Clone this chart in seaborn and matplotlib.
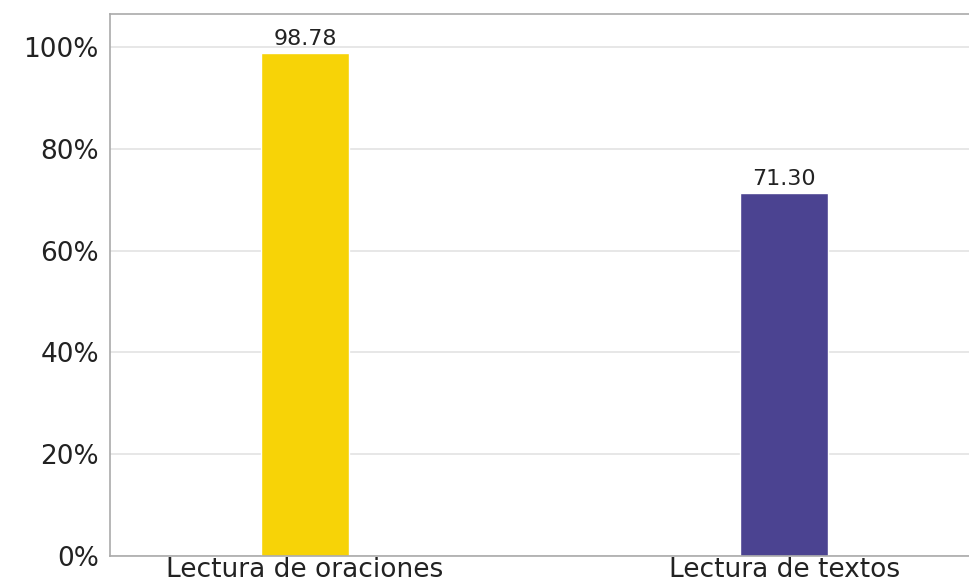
import matplotlib
matplotlib.use("Agg")
import matplotlib.pyplot as plt
import seaborn as sns
import pandas as pd
from matplotlib.ticker import FuncFormatter

categories = ["Lectura de oraciones", "Lectura de textos"]
values = [98.78, 71.30]
bar_colors = ["#F7D307", "#4B4391"]

df = pd.DataFrame({"cat": categories, "val": values})

sns.set_theme(style="white")
plt.rcParams["font.family"] = ["DejaVu Sans"]

fig = plt.figure(figsize=(9.69, 5.85), dpi=100)
ax = fig.add_axes([0.1135, 0.0496, 0.89, 0.9265])

sns.barplot(data=df, x="cat", y="val", hue="cat", palette=bar_colors,
            width=0.184, legend=False, ax=ax, saturation=1)

ax.set_ylim(0, 106.5)
ax.set_xlim(-0.407, 1.393)
ax.set_yticks([0, 20, 40, 60, 80, 100])
ax.yaxis.set_major_formatter(FuncFormatter(lambda v, p: f"{int(v)}%"))
ax.grid(axis="y", color="#e3e3e3", linewidth=1.2)
ax.set_axisbelow(True)
ax.set_xlabel("")
ax.set_ylabel("")
ax.tick_params(axis="y", labelsize=19, labelcolor="#222222", pad=8, length=0)
ax.tick_params(axis="x", labelsize=19, labelcolor="#222222", pad=1, length=0)

for side in ["left", "top", "bottom", "right"]:
    ax.spines[side].set_color("#aaaaaa")
    ax.spines[side].set_linewidth(1.2)

for i, v in enumerate(values):
    ax.text(i, v + 0.8, f"{v:.2f}", ha="center", va="bottom", fontsize=16,
            color="#222222")

fig.savefig("out.png", dpi=100)
